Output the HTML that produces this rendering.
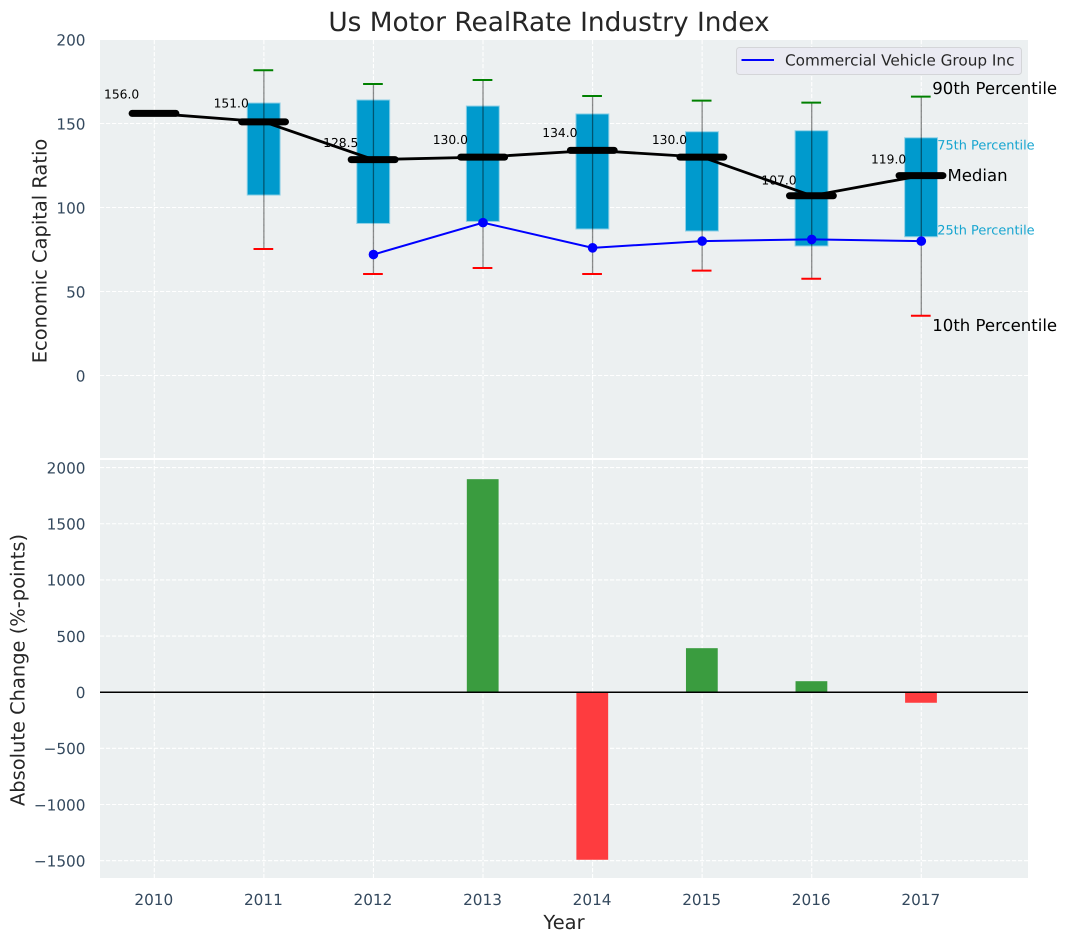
<!DOCTYPE html>
<html lang="en">
<head>
<meta charset="utf-8">
<title>Us Motor RealRate Industry Index</title>
<style>
html,body{margin:0;padding:0;background:#fff;}
svg{display:block;font-family:"DejaVu Sans","Liberation Sans",sans-serif;text-rendering:geometricPrecision;}
</style>
</head>
<body>
<svg id="chart" xmlns="http://www.w3.org/2000/svg" width="1067" height="942" viewBox="0 0 1067 942">
  <rect x="0" y="0" width="1067" height="942" fill="#ffffff"/>
  <text x="549" y="31" text-anchor="middle" font-size="26.39" fill="#262626">Us Motor RealRate Industry Index</text>
  <rect x="100" y="40" width="928" height="418" fill="#ecf0f1"/>
  <rect x="100" y="460" width="928" height="418" fill="#ecf0f1"/>
  <g id="grid"></g>
  <g id="boxes"></g>
  <g id="series"></g>
  <g id="bars"></g>
  <line x1="100" x2="1028" y1="692.3" y2="692.3" stroke="#000000" stroke-width="1.5"/>
  <g id="labels" font-size="12.3" fill="#000000"></g>
  <g id="ticks" font-size="15.28" fill="#34495e"></g>
  <g id="callouts"></g>
  <text transform="translate(46.5,251) rotate(-90)" text-anchor="middle" font-size="19.44" fill="#262626">Economic Capital Ratio</text>
  <text transform="translate(24.5,670) rotate(-90)" text-anchor="middle" font-size="19.44" fill="#262626">Absolute Change (%-points)</text>
  <text x="564" y="929" text-anchor="middle" font-size="19.44" fill="#262626">Year</text>
  <g>
    <rect x="736.5" y="47.5" width="285" height="27" rx="3" fill="#eaeaf2" stroke="#d4d5d8" stroke-width="1"/>
    <line x1="741.5" x2="774" y1="60" y2="60" stroke="#0000ff" stroke-width="2"/>
    <text x="785" y="65.5" font-size="15.28" fill="#262626">Commercial Vehicle Group Inc</text>
  </g>
</svg>
<script>
// Chart data
const years = [2010, 2011, 2012, 2013, 2014, 2015, 2016, 2017];
const medians = [156, 151, 128.5, 130, 134, 130, 107, 119];
const boxYears = [2011, 2012, 2013, 2014, 2015, 2016, 2017];
const p90 = [181.7, 173.5, 175.9, 166.4, 163.6, 162.4, 166];
const p75 = [162.2, 164, 160.4, 155.7, 145.1, 145.7, 141.5];
const p25 = [107.4, 90.5, 91.7, 87.2, 86, 77.1, 82.6];
const p10 = [75.3, 60.4, 64, 60.4, 62.4, 57.6, 35.6];
const peerYears = [2012, 2013, 2014, 2015, 2016, 2017];
const peerValues = [72, 91, 76, 80, 81, 80];
const changeYears = [2013, 2014, 2015, 2016, 2017];
const changeValues = [1897, -1492, 392, 98, -94];
const topTicks = [0, 50, 100, 150, 200];
const bottomTicks = [-1500, -1000, -500, 0, 500, 1000, 1500, 2000];

// Axis functions
const xAxis = function (year) { return 154.3 + (year - 2010) * 109.57; };
const yTop = function (v) { return 375.5 - v * 1.68; };
const yBottom = function (v) { return 692.2 - v * 0.1123; };
const yLabel = function (v) { return 98.5 + (156 - v) * 1.755; };
const xUnit = 109.57;

const NS = 'http://www.w3.org/2000/svg';
function mk(parentId, tag, props, txt) {
  const n = document.createElementNS(NS, tag);
  Object.keys(props).forEach(function (k) { n.setAttribute(k, props[k]); });
  if (txt !== undefined) n.textContent = txt;
  document.getElementById(parentId).appendChild(n);
  return n;
}
const GRID = { stroke: '#ffffff', 'stroke-width': 1.1, 'stroke-dasharray': '4.2 1.8' };
function gridProps(a, b, c, d) {
  return Object.assign({ x1: a, x2: b, y1: c, y2: d }, GRID);
}

// Grid
years.forEach(function (yr) {
  const x = xAxis(yr);
  const g1 = mk('grid', 'line', gridProps(x, x, 40, 458));
  
  
  const g2 = mk('grid', 'line', gridProps(x, x, 460, 878));
  
  
  const t = mk('ticks', 'text', { x: x - 0.5, y: 905, 'text-anchor': 'middle' }, String(yr));
  
  
});
topTicks.forEach(function (v) {
  const y = yTop(v);
  const g = mk('grid', 'line', gridProps(100, 1028, y, y));
  
  
  const t = mk('ticks', 'text', { x: 85.5, y: y + 6.2, 'text-anchor': 'end' }, String(v));
  
  
});
bottomTicks.forEach(function (v) {
  const y = yBottom(v);
  const g = mk('grid', 'line', gridProps(100, 1028, y, y));
  
  
  const label = v < 0 ? '\u2212' + Math.abs(v) : String(v);
  const t = mk('ticks', 'text', { x: 85.5, y: y + 5.8, 'text-anchor': 'end' }, label);
  
  
});

// Boxes and whiskers
boxYears.forEach(function (yr, i) {
  const x = xAxis(yr);
  const bw = 0.3 * xUnit;
  const box = mk('boxes', 'rect', {
    x: x - bw / 2 - 0.2, y: yTop(p75[i]), width: bw,
    height: yTop(p25[i]) - yTop(p75[i]),
    fill: '#009acd', stroke: '#8fd0e6', 'stroke-width': 1
  });
  
  
});
boxYears.forEach(function (yr, i) {
  const x = xAxis(yr);
  const capHalf = 0.09 * xUnit;
  const w = mk('series', 'line', {
    x1: x, x2: x, y1: yTop(p90[i]), y2: yTop(p10[i]),
    stroke: '#000000', 'stroke-opacity': 0.45, 'stroke-width': 1.3
  });
  
  
  const hi = mk('series', 'line', {
    x1: x - capHalf - 0.5, x2: x + capHalf - 0.5, y1: yTop(p90[i]), y2: yTop(p90[i]),
    stroke: '#008000', 'stroke-width': 2
  });
  
  
  const lo = mk('series', 'line', {
    x1: x - capHalf - 0.5, x2: x + capHalf - 0.5, y1: yTop(p10[i]), y2: yTop(p10[i]),
    stroke: '#ff0000', 'stroke-width': 2
  });
  
  
});

// Median line
const medianLine = mk('series', 'polyline', {
  points: years.map(function (yr, i) { return xAxis(yr) + ',' + yTop(medians[i]); }).join(' '),
  fill: 'none', stroke: '#000000', 'stroke-width': 2.8
});


years.forEach(function (yr, i) {
  const x = xAxis(yr);
  const mh = 0.2 * xUnit;
  const seg = mk('series', 'line', {
    x1: x - mh - 0.3, x2: x + mh - 0.3, y1: yTop(medians[i]), y2: yTop(medians[i]),
    stroke: '#000000', 'stroke-width': 7, 'stroke-linecap': 'round'
  });
  
  
  const lab = mk('labels', 'text', { x: x - 50.3, y: yLabel(medians[i]) }, medians[i].toFixed(1));
  
  
});

// Peer series
const peerLine = mk('series', 'polyline', {
  points: peerYears.map(function (yr, i) { return xAxis(yr) + ',' + yTop(peerValues[i]); }).join(' '),
  fill: 'none', stroke: '#0000ff', 'stroke-width': 2
});


peerYears.forEach(function (yr, i) {
  const c = mk('series', 'circle', { cx: xAxis(yr), cy: yTop(peerValues[i]), r: 4.8, fill: '#0000ff' });
  
  
});

// Change bars
changeYears.forEach(function (yr, i) {
  const v = changeValues[i];
  const bw = 0.29 * xUnit;
  const top = yBottom(Math.max(v, 0));
  const bot = yBottom(Math.min(v, 0));
  const b = mk('bars', 'rect', {
    x: xAxis(yr) - bw / 2 - 0.3, y: top, width: bw, height: bot - top,
    fill: v >= 0 ? '#3a9c3f' : '#fe3c3f'
  });
  
  
});

// Callouts attached to the final box
const last = boxYears.length - 1;
const lastX = xAxis(boxYears[last]);
const c90 = mk('callouts', 'text', { x: lastX + 11, y: yTop(p90[last]) - 2.7, 'font-size': 16.55, fill: '#000000' }, '90th Percentile');


const c75 = mk('callouts', 'text', { x: lastX + 16, y: yTop(p75[last]) + 11.5, 'font-size': 12.9, fill: '#17a5d0' }, '75th Percentile');


const cMed = mk('callouts', 'text', { x: lastX + 26.2, y: yTop(medians[medians.length - 1]) + 5.5, 'font-size': 16.55, fill: '#000000' }, 'Median');


const c25 = mk('callouts', 'text', { x: lastX + 16, y: yTop(p25[last]) - 2.2, 'font-size': 12.9, fill: '#17a5d0' }, '25th Percentile');


const c10 = mk('callouts', 'text', { x: lastX + 11, y: yTop(p10[last]) + 15.3, 'font-size': 16.55, fill: '#000000' }, '10th Percentile');


</script>
</body>
</html>
